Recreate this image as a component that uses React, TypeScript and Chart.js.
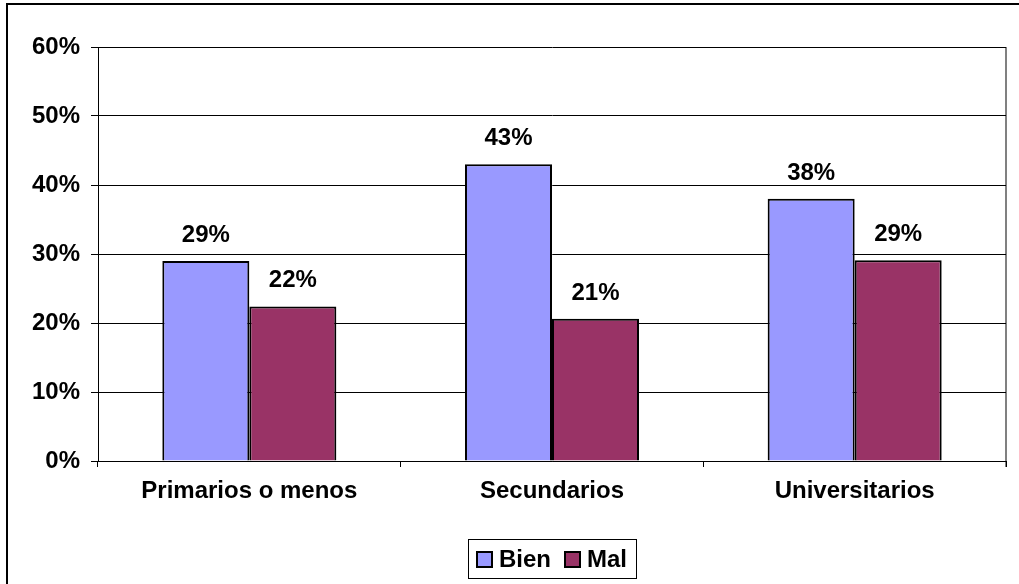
import React, { useEffect, useRef } from "react";
import { Chart, registerables } from "chart.js";

Chart.register(...registerables);

const categories = ["Primarios o menos", "Secundarios", "Universitarios"];
const bienValues = [29, 43, 38];
const malValues = [22.4, 20.6, 29.1];
const seriesNames = ["Bien", "Mal"];
const seriesColors = ["#9999FF", "#993366"];
const yTicks = [0, 10, 20, 30, 40, 50, 60];

const FONT = "'Liberation Sans', Arial, sans-serif";
const FSIZE = 24;

const decorPlugin = {
  id: "decor",
  beforeDraw(chart: any) {
    const { ctx, chartArea, width, height } = chart;
    ctx.save();
    ctx.fillStyle = "#ffffff";
    ctx.fillRect(0, 0, width, height);
    ctx.strokeStyle = "#000000";
    ctx.lineWidth = 2;
    ctx.beginPath();
    ctx.moveTo(7, height + 5);
    ctx.lineTo(7, 4);
    ctx.lineTo(width + 5, 4);
    ctx.stroke();
    ctx.strokeStyle = "#808080";
    ctx.lineWidth = 2;
    ctx.beginPath();
    ctx.moveTo(chartArea.right, chartArea.top);
    ctx.lineTo(chartArea.right, chartArea.bottom + 6);
    ctx.stroke();
    ctx.restore();
  },
  afterDraw(chart: any) {
    const { ctx } = chart;
    ctx.save();
    ctx.font = `bold ${FSIZE}px ${FONT}`;
    ctx.fillStyle = "#000000";
    ctx.textAlign = "center";
    ctx.textBaseline = "alphabetic";
    chart.data.datasets.forEach((ds: any, di: number) => {
      const meta = chart.getDatasetMeta(di);
      meta.data.forEach((bar: any, i: number) => {
        const v = ds.data[i];
        ctx.fillText(Math.round(v) + "%", bar.x, bar.y - 19);
      });
    });
    const lx = 468, ly = 539, lw = 168, lh = 39;
    ctx.strokeStyle = "#000000";
    ctx.lineWidth = 1;
    ctx.strokeRect(lx + 0.5, ly + 0.5, lw, lh);
    const items = [
      { x: 477, tx: 499 },
      { x: 565, tx: 587 },
    ];
    ctx.textAlign = "left";
    ctx.textBaseline = "middle";
    items.forEach((it, i) => {
      ctx.fillStyle = seriesColors[i];
      ctx.fillRect(it.x, 552, 15, 15);
      ctx.strokeStyle = "#000000";
      ctx.lineWidth = 2;
      ctx.strokeRect(it.x, 552, 15, 15);
      ctx.fillStyle = "#000000";
      ctx.fillText(seriesNames[i], it.tx, 560);
    });
    ctx.restore();
  },
};

export default function App() {
  const ref = useRef<HTMLCanvasElement | null>(null);
  useEffect(() => {
    document.body.style.margin = "0";
    const canvas = ref.current!;
    const chart = new Chart(canvas, {
      type: "bar",
      data: {
        labels: categories,
        datasets: [
          {
            label: seriesNames[0],
            data: bienValues,
            backgroundColor: seriesColors[0],
            borderColor: "#000000",
            borderWidth: 2,
          },
          {
            label: seriesNames[1],
            data: malValues,
            backgroundColor: seriesColors[1],
            borderColor: "#000000",
            borderWidth: 2,
          },
        ],
      },
      options: {
        animation: false,
        responsive: false,
        devicePixelRatio: 1,
        layout: { padding: { top: 47, right: 13, left: 0, bottom: 0 } },
        plugins: {
          legend: { display: false },
          tooltip: { enabled: false },
        },
        datasets: {
          bar: { barPercentage: 1, categoryPercentage: 0.575 },
        },
        scales: {
          x: {
            afterFit: (s: any) => {
              s.height = 123;
            },
            grid: {
              display: true,
              drawOnChartArea: false,
              drawTicks: true,
              tickLength: 6,
              color: "#000000",
              offset: true,
            },
            border: { display: true, color: "#000000", width: 1 },
            ticks: {
              color: "#000000",
              padding: 10,
              font: { family: FONT, size: FSIZE, weight: "bold" },
              maxRotation: 0,
              autoSkip: false,
            },
          },
          y: {
            min: 0,
            max: 60,
            afterFit: (s: any) => {
              s.width = 98;
            },
            afterBuildTicks: (s: any) => {
              s.ticks = yTicks.map((v) => ({ value: v }));
            },
            grid: {
              color: "#000000",
              lineWidth: 1,
              drawTicks: true,
              tickLength: 7,
            },
            border: { display: true, color: "#000000", width: 1 },
            ticks: {
              color: "#000000",
              padding: 11,
              font: { family: FONT, size: FSIZE, weight: "bold" },
              callback: (v: any) => v + "%",
            },
          },
        },
      },
      plugins: [decorPlugin],
    });
    return () => chart.destroy();
  }, []);
  return (
    <div style={{ position: "absolute", left: 0, top: 0, width: 1019, height: 584 }}>
      <canvas ref={ref} width={1019} height={584} style={{ width: 1019, height: 584, display: "block" }} />
    </div>
  );
}
